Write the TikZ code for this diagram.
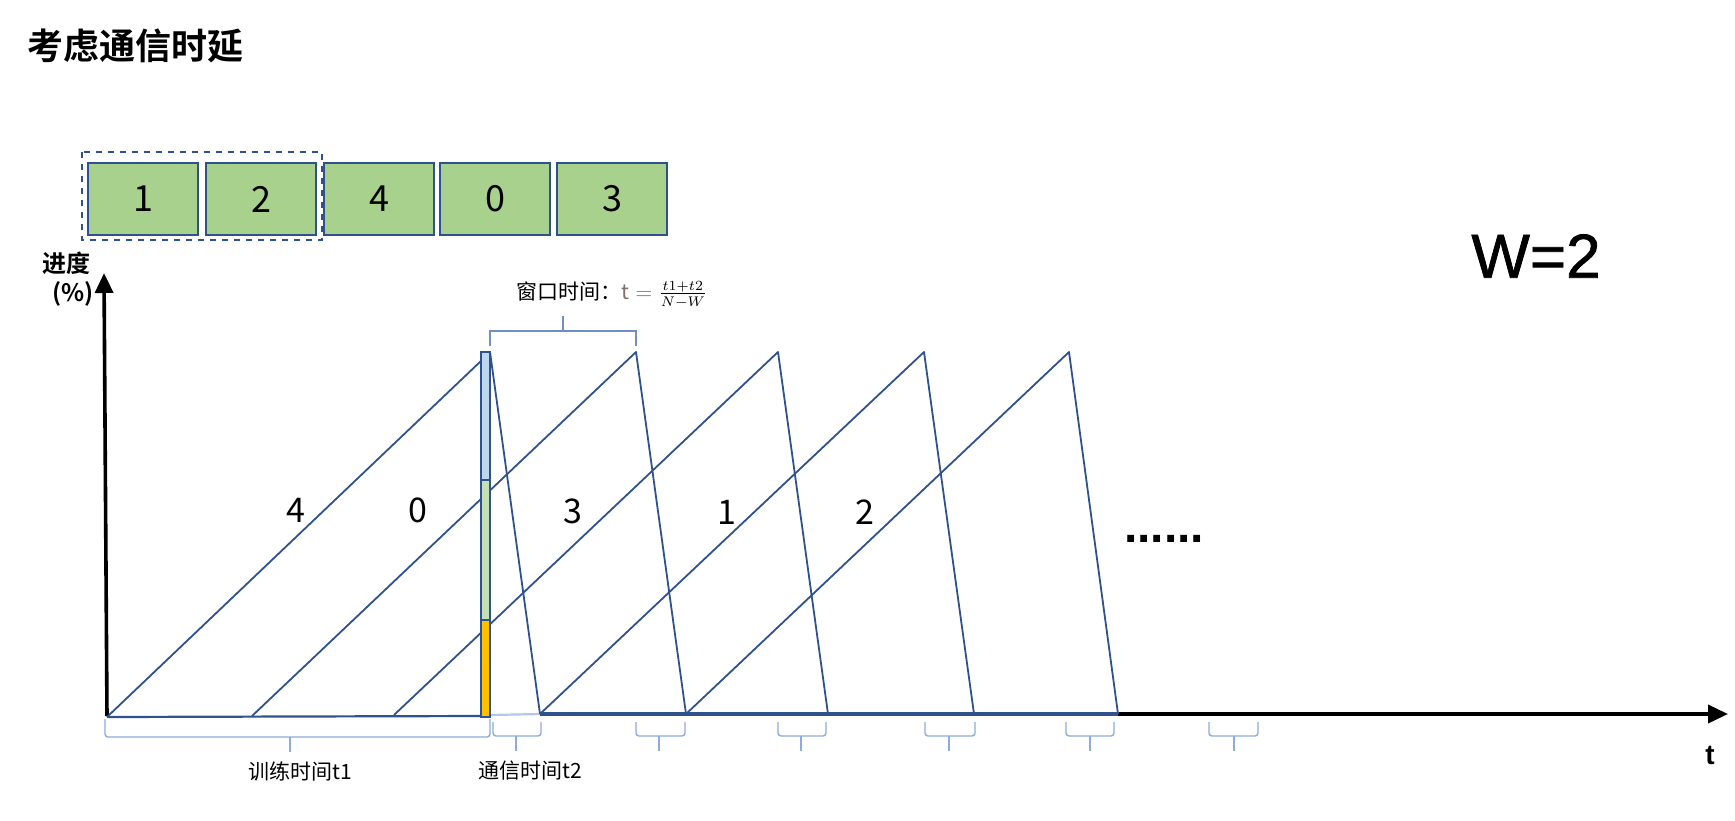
\documentclass[tikz,border=0pt]{standalone}
\usepackage{fontspec}
\setmainfont{Noto Sans CJK SC}[BoldFont={Noto Sans CJK SC Bold}]
\newfontfamily\arialf{Liberation Sans}
\usetikzlibrary{arrows.meta}
\definecolor{boxgreen}{HTML}{A9D18E}
\definecolor{dblue}{HTML}{2F528F}
\definecolor{barblue}{HTML}{BDD7EE}
\definecolor{bargreen}{HTML}{C5E0B4}
\definecolor{bargold}{HTML}{FFC000}
\definecolor{bracecol}{HTML}{8FAADC}
\definecolor{winbr}{HTML}{6F8FC6}
\definecolor{lightline}{HTML}{B4C7E7}
\definecolor{tgray}{HTML}{7F6F6F}
\tikzset{
 numbox/.style={draw=dblue, line width=1.2pt, fill=boxgreen, minimum width=55pt, minimum height=36pt, inner sep=0pt, font=\fontsize{18}{20}\selectfont},
 tri/.style={draw=dblue, line width=0.9pt, line join=round},
 axisline/.style={line width=1.8pt, -{Triangle[length=10pt,width=9pt]}},
 brk/.style={draw=bracecol, line width=0.7pt},
 wbrk/.style={draw=winbr, line width=0.8pt},
 lbl/.style={inner sep=0pt, font=\fontsize{10.5}{12}\selectfont},
 digit/.style={inner sep=0pt, font=\fontsize{17}{19}\selectfont},
 barseg/.style={draw=dblue, line width=1.2pt},
}
\newcommand{\botbrace}[4]{%
 \draw[brk, rounded corners=1.5pt] (#1,#4) -- (#1,#4+14) -- (#2,#4+14) -- (#2,#4);
 \draw[brk] (#3,#4+14) -- (#3,#4+29);}
\begin{document}
\begin{tikzpicture}[x=0.5pt,y=-0.5pt]
\useasboundingbox (0,0) rectangle (1735,820);
% title
\node[anchor=west, inner sep=0pt, font=\bfseries\fontsize{18}{20}\selectfont] (title) at (27,46) {考虑通信时延};
% order boxes
\node[numbox] (b1) at (143,199) {1};
\node[numbox] (b2) at (261,199) {2};
\node[numbox] (b3) at (379,199) {4};
\node[numbox] (b4) at (495,199) {0};
\node[numbox] (b5) at (612,199) {3};
\draw[draw=dblue, line width=0.9pt, dashed] (82,152) rectangle (322,240);
% W=2
\node[inner sep=0pt, font=\arialf\fontsize{31}{34}\selectfont] (w) at (1536,256) {\addfontfeatures{FakeBold=1.2}W=2};
% y label
\node[inner sep=0pt, font=\bfseries\fontsize{12}{14}\selectfont] (ylab) at (66,263) {进度};
\node[inner sep=0pt, font=\bfseries\fontsize{12}{14}\selectfont] (ypct) at (73,294) {(\%)};
% coordinates
\coordinate (o) at (107,716);
\coordinate (ytip) at (104,273);
\coordinate (xs) at (540,714);
\coordinate (xtip) at (1728,714);
\coordinate (p0) at (107,717);
\coordinate (p1) at (252,716);
\coordinate (p2) at (394,715);
\coordinate (p3) at (540,714);
\coordinate (p4) at (686,714);
\coordinate (p5) at (828,714);
\coordinate (p6) at (974,714);
\coordinate (p7) at (1118,714);
\coordinate (T0) at (482,360);
\coordinate (T1) at (636,352);
\coordinate (T2) at (778,352);
\coordinate (T3) at (924,352);
\coordinate (T4) at (1069,352);
\coordinate (bartop) at (490,352);
% axes
\draw[axisline] (o) -- (ytip);
\draw[axisline] (xs) -- (xtip);
% baseline
\draw[draw=dblue, line width=1.1pt] (p0) -- (481,716);
\draw[draw=lightline, line width=1.1pt] (490,715) -- (p3);
\draw[draw=dblue, line width=1.6pt] (p3) -- (p7);
% sawtooth lines
\draw[tri] (p0) -- (T0);
\draw[tri] (p1) -- (T1) -- (p4);
\draw[tri] (p2) -- (T2) -- (p5);
\draw[tri] (p3) -- (T3) -- (p6);
\draw[tri] (p4) -- (T4) -- (p7);
\draw[tri] (bartop) -- (p3);
% bar
\filldraw[barseg, fill=barblue] (481,352) rectangle (490,480);
\filldraw[barseg, fill=bargreen] (481,480) rectangle (490,620);
\filldraw[barseg, fill=bargold] (481,620) rectangle (490,717);
% digits
\node[digit] (d4) at (296,510) {4};
\node[digit] (d0) at (418,510) {0};
\node[digit] (d3) at (573,511) {3};
\node[digit] (d1) at (727,512) {1};
\node[digit] (d2) at (865,512) {2};
% dots
\node[inner sep=0pt, anchor=base, font=\arialf\bfseries\fontsize{24}{26}\selectfont] (dots) at (1164,542) {......};
% window bracket
\draw[wbrk] (490,346) -- (490,331) -- (636,331) -- (636,346);
\draw[wbrk] (563,331) -- (563,316);
\node[lbl, anchor=west] (win) at (516,295) {窗口时间：${\color{tgray}\mathrm{t}}\mathrel{\color{tgray}=}\frac{t1+t2}{N-W}$};
% bottom braces
\draw[brk, rounded corners=1.5pt] (105,719) -- (105,737) -- (490,737) -- (490,719);
\draw[brk] (290,737) -- (290,752);
\botbrace{493}{541}{516}{722}
\botbrace{636}{685}{659}{722}
\botbrace{778}{826}{801}{722}
\botbrace{925}{975}{949}{722}
\botbrace{1066}{1114}{1090}{722}
\botbrace{1209}{1258}{1234}{722}
\node[lbl] (t1lab) at (300,771) {训练时间t1};
\node[lbl] (t2lab) at (530,771) {通信时间t2};
% t label
\node[inner sep=0pt, font=\arialf\bfseries\fontsize{14}{16}\selectfont] (tlab) at (1710,755) {t};
\end{tikzpicture}
\end{document}
